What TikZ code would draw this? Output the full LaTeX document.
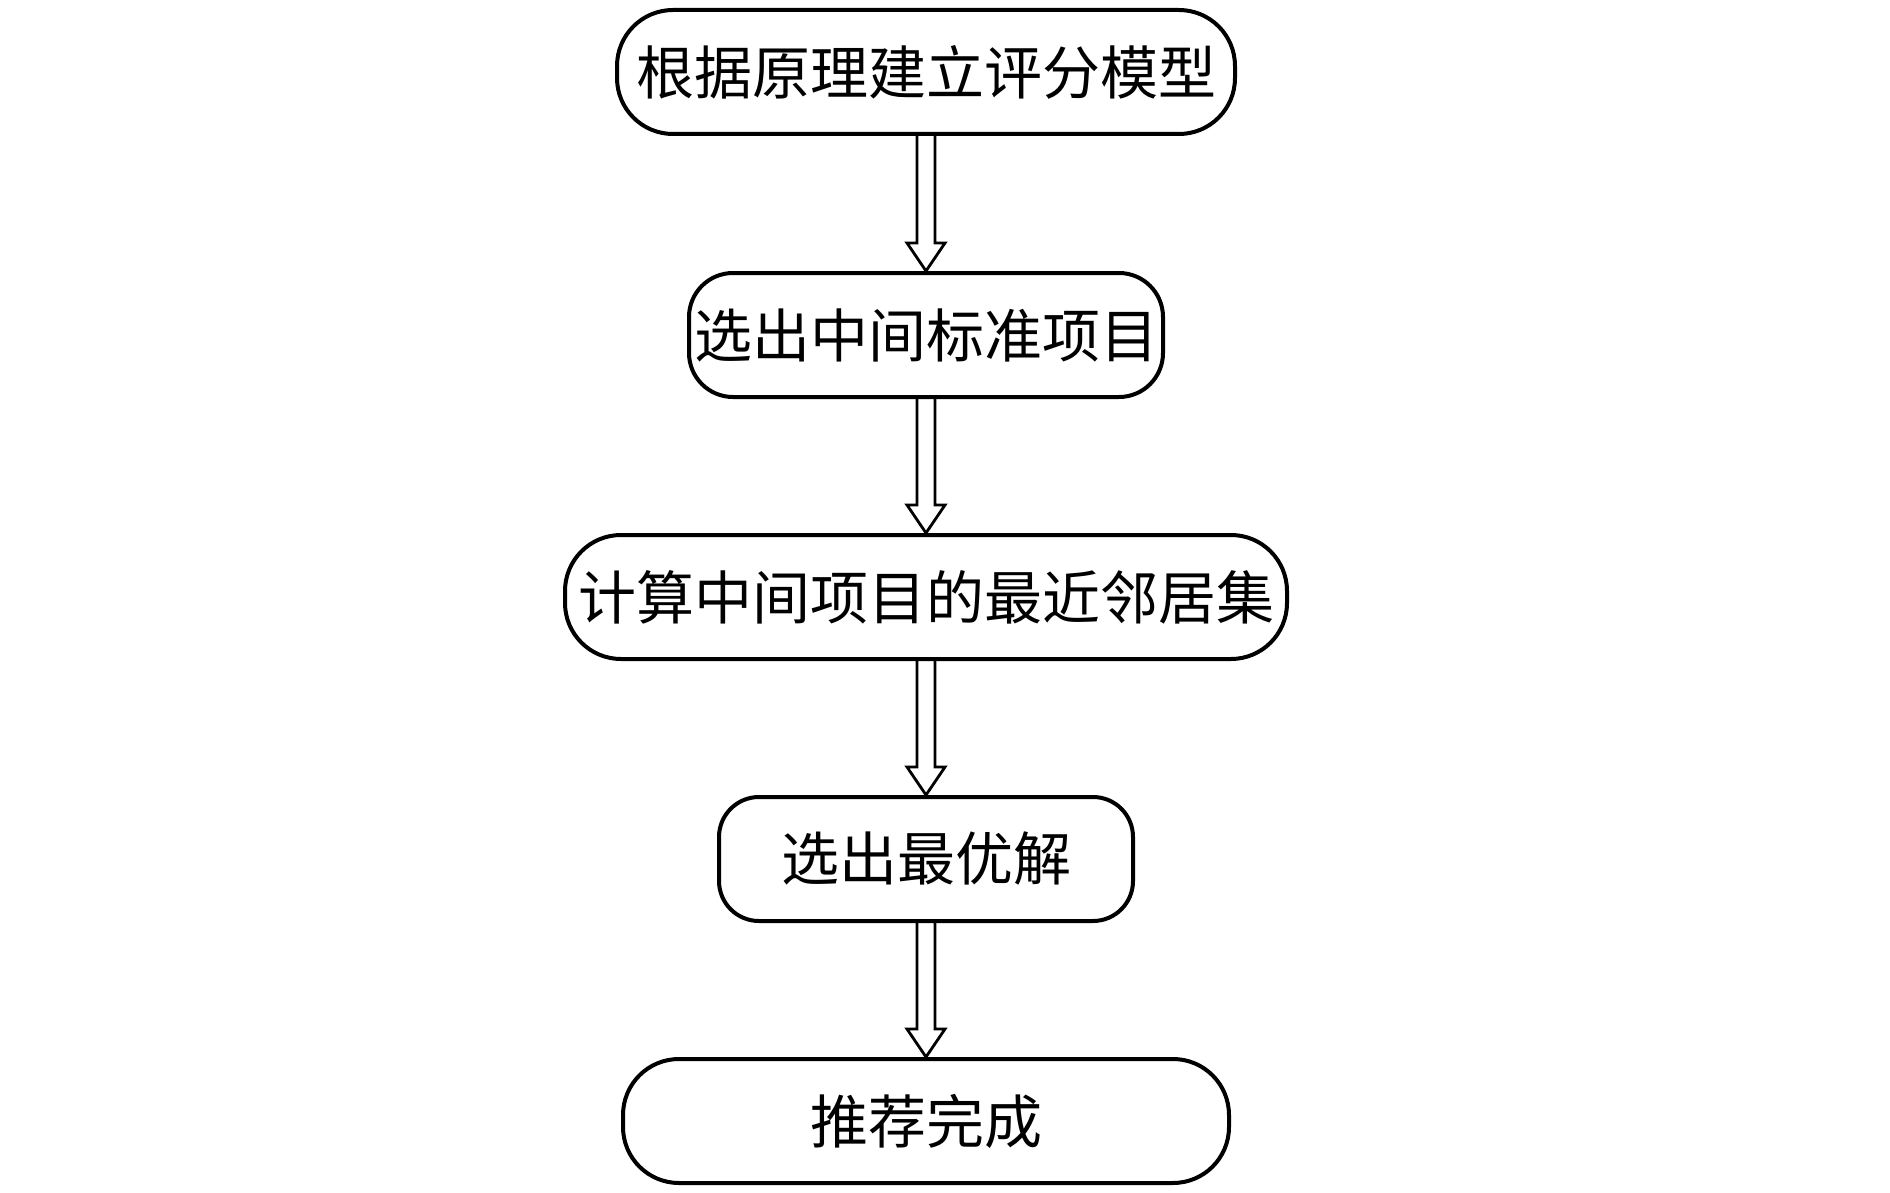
\documentclass[tikz,border=0pt]{standalone}
\usepackage{fontspec}
\newfontfamily\cjk{Noto Sans CJK SC}
\usetikzlibrary{calc}
\begin{document}
\begin{tikzpicture}[x=0.5pt,y=-0.5pt,
  box/.style={draw=black,line width=2pt,fill=white,inner sep=0pt,
    minimum height=62pt,font=\cjk\fontsize{29pt}{31pt}\selectfont},
  arr/.style={draw=black,line width=1.4pt,line join=miter}]
\useasboundingbox (0,0) rectangle (1890,1193);
\node[box,minimum width=309pt,rounded corners=28pt] (a) at (926,72) {根据原理建立评分模型};
\node[box,minimum width=237pt,rounded corners=22pt] (b) at (926,335) {选出中间标准项目};
\node[box,minimum width=361pt,rounded corners=28pt] (c) at (926,597) {计算中间项目的最近邻居集};
\node[box,minimum width=207pt,rounded corners=20pt] (d) at (926,859) {选出最优解};
\node[box,minimum width=303pt,rounded corners=28pt] (e) at (926,1121) {推荐完成};
\foreach \s/\t in {a/b,b/c,c/d,d/e}{
  \draw[arr] ($(\s.south)+(-9,0)$) -- ($(\t.north)+(-9,-28)$) -- ($(\t.north)+(-19,-28)$)
    -- (\t.north) -- ($(\t.north)+(19,-28)$) -- ($(\t.north)+(9,-28)$) -- ($(\s.south)+(9,0)$);
}
\end{tikzpicture}
\end{document}
